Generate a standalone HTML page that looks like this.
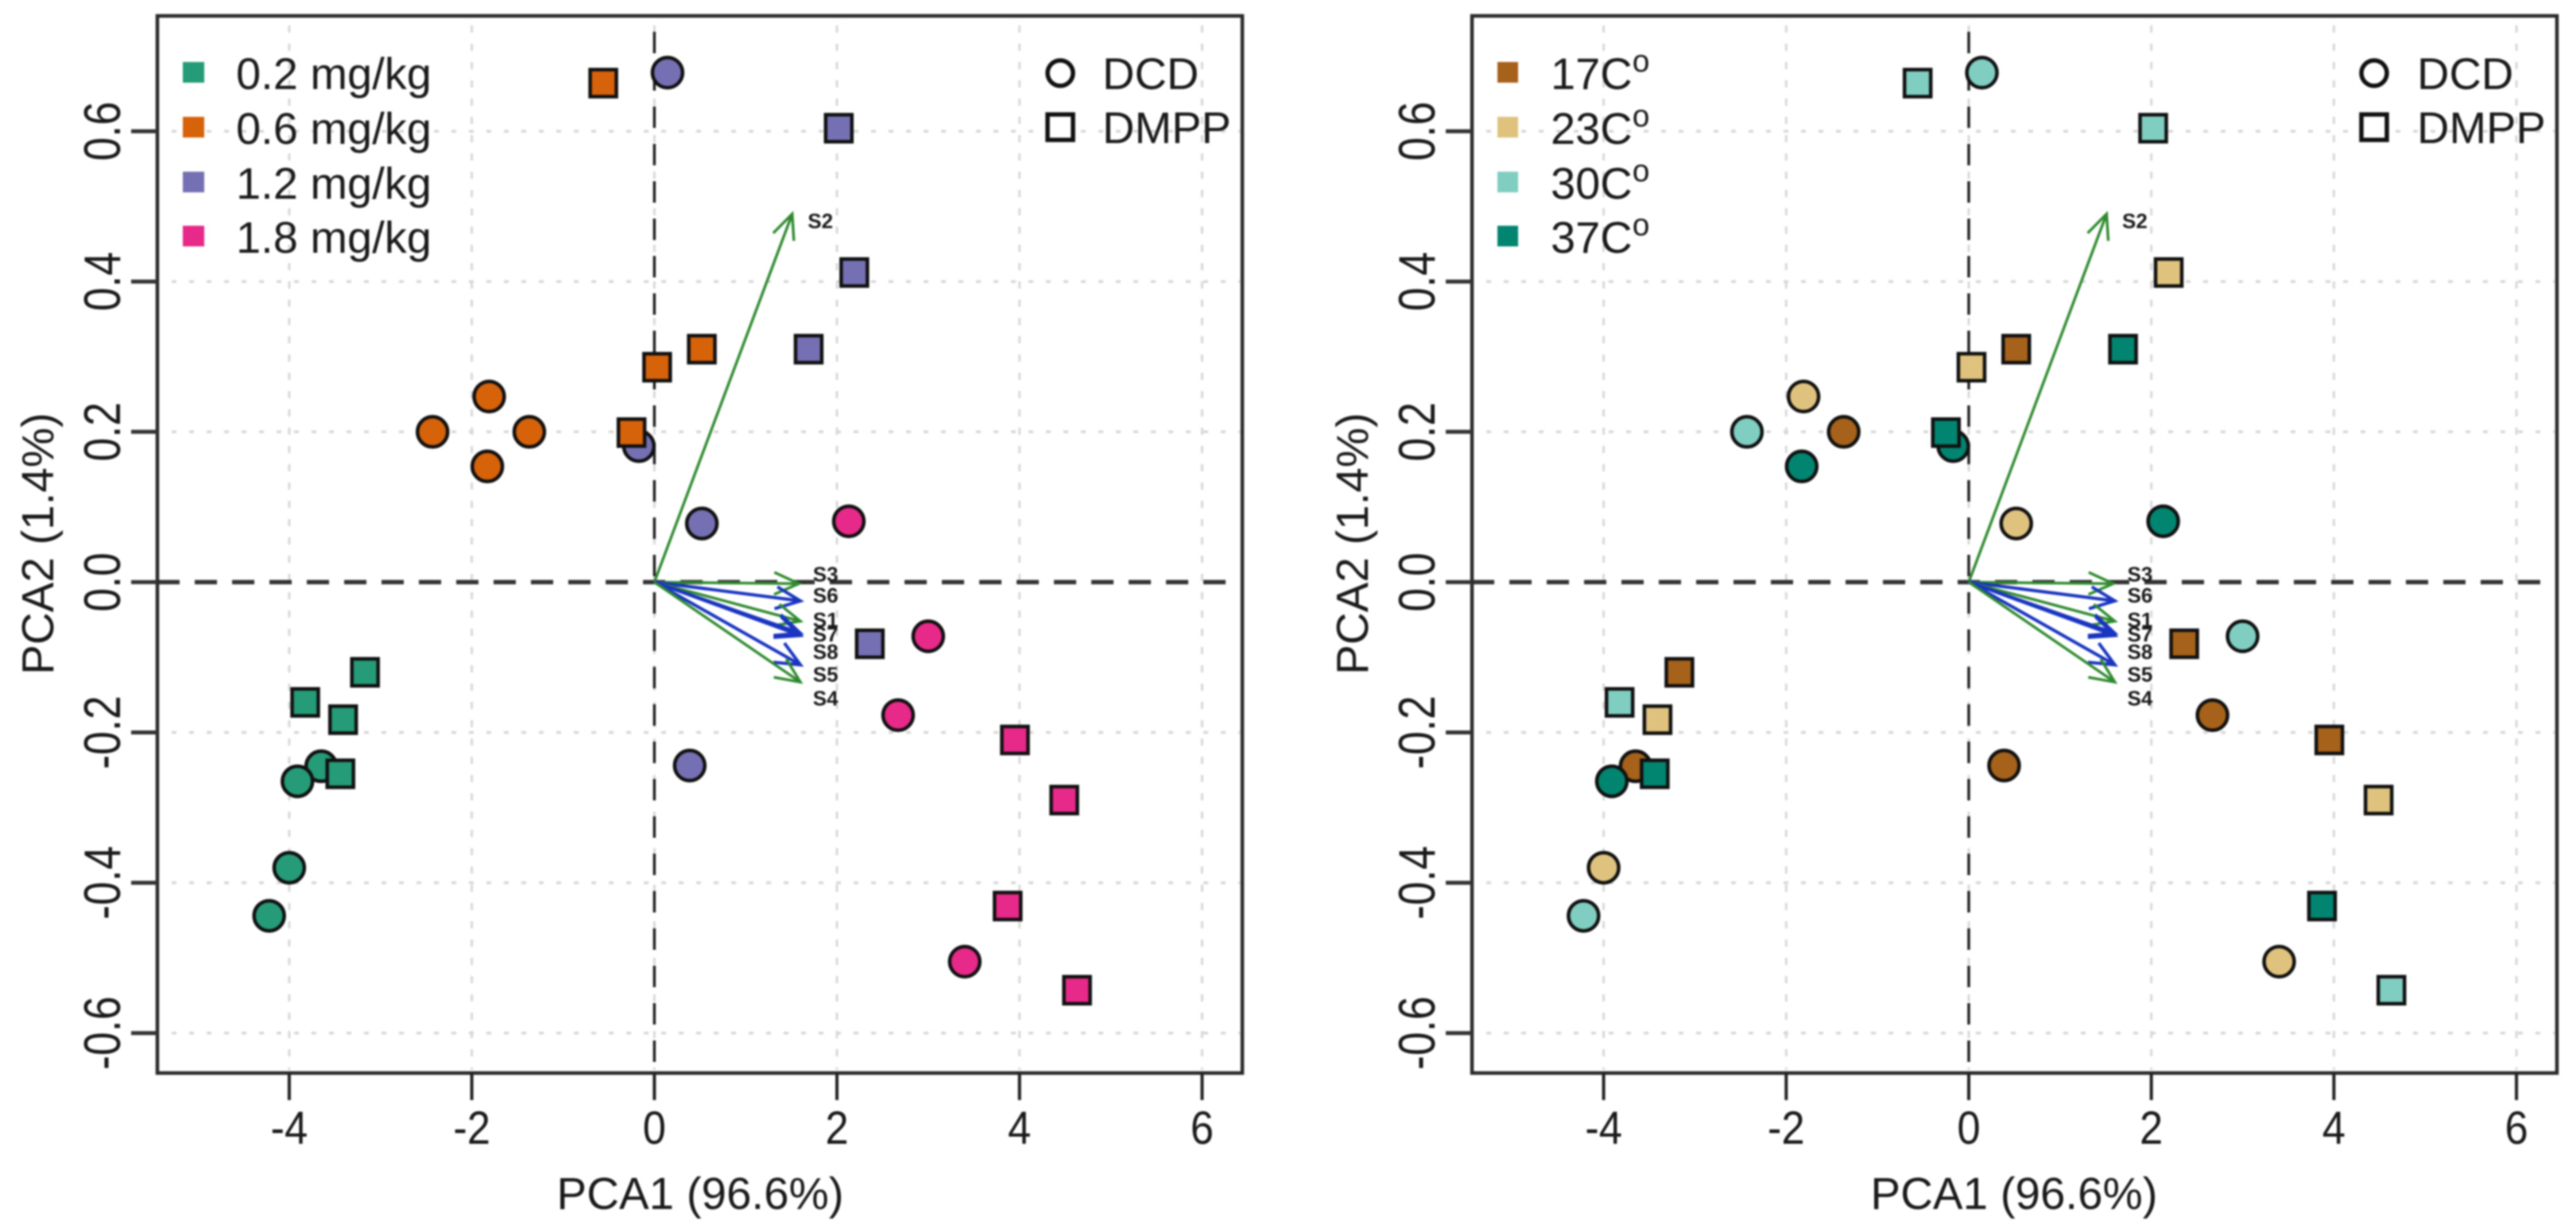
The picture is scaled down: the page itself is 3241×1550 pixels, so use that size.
<!DOCTYPE html>
<html lang="en">
<head>
<meta charset="utf-8">
<title>PCA biplots by dose and temperature</title>
<style>
  html, body { margin: 0; padding: 0; background: #fff; }
  svg { display: block; filter: blur(1.1px); }
  text { font-family: "Liberation Sans", Arial, sans-serif; fill: #1a1a1a; }
  .legend-label, .axis-title { font-size: 56.5px; }
  .legend-label { font-size: 56px; }
  .sup { font-size: 39px; }
</style>
</head>
<body>
<svg id="chart" xmlns="http://www.w3.org/2000/svg" width="3241" height="1550" viewBox="0 0 3241 1550">
  <rect x="0" y="0" width="3241" height="1550" fill="#fff"/>
  <g id="panel-dose"></g>
  <g id="panel-temp"></g>

  <g>
    <rect x="230" y="78" width="27" height="26" fill="#259B77"/>
    <text class="legend-label" x="297" y="112">0.2 mg/kg</text>
    <rect x="230" y="147" width="27" height="26" fill="#D6620A"/>
    <text class="legend-label" x="297" y="181">0.6 mg/kg</text>
    <rect x="230" y="216" width="27" height="26" fill="#7570B3"/>
    <text class="legend-label" x="297" y="250">1.2 mg/kg</text>
    <rect x="230" y="284" width="27" height="26" fill="#E7298A"/>
    <text class="legend-label" x="297" y="318">1.8 mg/kg</text>
  </g>
  <g>
    <circle cx="1334" cy="92" r="16" fill="#fff" stroke="#111" stroke-width="5.5"/>
    <text class="legend-label" x="1387" y="112">DCD</text>
    <rect x="1318" y="144" width="32" height="32" fill="#fff" stroke="#111" stroke-width="5.5"/>
    <text class="legend-label" x="1387" y="180">DMPP</text>
  </g>
  <text class="axis-title" x="881" y="1521" text-anchor="middle">PCA1 (96.6%)</text>
  <text class="axis-title" transform="translate(67,684) rotate(-90)" text-anchor="middle">PCA2 (1.4%)</text>

  <g>
    <rect x="1884" y="78" width="26" height="26" fill="#A6611A"/>
    <text class="legend-label" x="1951" y="112">17C<tspan class="sup" dy="-22">o</tspan></text>
    <rect x="1884" y="147" width="26" height="26" fill="#DFC27D"/>
    <text class="legend-label" x="1951" y="181">23C<tspan class="sup" dy="-22">o</tspan></text>
    <rect x="1884" y="216" width="26" height="26" fill="#80CDC1"/>
    <text class="legend-label" x="1951" y="250">30C<tspan class="sup" dy="-22">o</tspan></text>
    <rect x="1884" y="284" width="26" height="26" fill="#018571"/>
    <text class="legend-label" x="1951" y="318">37C<tspan class="sup" dy="-22">o</tspan></text>
  </g>
  <g>
    <circle cx="2987" cy="92" r="16" fill="#fff" stroke="#111" stroke-width="5.5"/>
    <text class="legend-label" x="3041" y="112">DCD</text>
    <rect x="2971" y="144" width="32" height="32" fill="#fff" stroke="#111" stroke-width="5.5"/>
    <text class="legend-label" x="3041" y="180">DMPP</text>
  </g>
  <text class="axis-title" x="2534" y="1521" text-anchor="middle">PCA1 (96.6%)</text>
  <text class="axis-title" transform="translate(1721,684) rotate(-90)" text-anchor="middle">PCA2 (1.4%)</text>
</svg>

<script>
// ---- chart data ----
const xTickValues = [-4, -2, 0, 2, 4, 6];
const xTickLabels = ['-4', '-2', '0', '2', '4', '6'];
const yTickValues = [-0.6, -0.4, -0.2, 0, 0.2, 0.4, 0.6];
const yTickLabels = ['-0.6', '-0.4', '-0.2', '0.0', '0.2', '0.4', '0.6'];

// Samples: circles (DCD) first, then squares (DMPP)
const pca1 = [
  -3.65, -3.91, -4.00, -4.22,
  -2.43, -1.81, -1.37, -1.83,
  0.144, -0.17, 0.52, 0.387,
  2.13, 3.00, 2.67, 3.40,
  -3.17, -3.825, -3.41, -3.44,
  -0.56, 0.52, 0.03, -0.25,
  2.02, 2.19, 1.69, 2.36,
  3.95, 4.49, 3.87, 4.63
];
const pca2 = [
  -0.245, -0.265, -0.38, -0.444,
  0.20, 0.247, 0.20, 0.154,
  0.678, 0.181, 0.078, -0.244,
  0.081, -0.072, -0.177, -0.505,
  -0.12, -0.16, -0.183, -0.255,
  0.664, 0.31, 0.286, 0.199,
  0.604, 0.412, 0.31, -0.082,
  -0.21, -0.29, -0.431, -0.543
];
const doseGroup = [
  '0.2', '0.2', '0.2', '0.2',
  '0.6', '0.6', '0.6', '0.6',
  '1.2', '1.2', '1.2', '1.2',
  '1.8', '1.8', '1.8', '1.8',
  '0.2', '0.2', '0.2', '0.2',
  '0.6', '0.6', '0.6', '0.6',
  '1.2', '1.2', '1.2', '1.2',
  '1.8', '1.8', '1.8', '1.8'
];
const tempGroup = [
  '17', '37', '23', '30',
  '30', '23', '17', '37',
  '30', '37', '23', '17',
  '37', '30', '17', '23',
  '17', '30', '23', '37',
  '30', '17', '23', '37',
  '30', '23', '37', '17',
  '17', '23', '37', '30'
];
const inhibitor = [
  'DCD', 'DCD', 'DCD', 'DCD',
  'DCD', 'DCD', 'DCD', 'DCD',
  'DCD', 'DCD', 'DCD', 'DCD',
  'DCD', 'DCD', 'DCD', 'DCD',
  'DMPP', 'DMPP', 'DMPP', 'DMPP',
  'DMPP', 'DMPP', 'DMPP', 'DMPP',
  'DMPP', 'DMPP', 'DMPP', 'DMPP',
  'DMPP', 'DMPP', 'DMPP', 'DMPP'
];

// Loading vectors
const loadingNames = ['S2', 'S3', 'S6', 'S1', 'S7', 'S8', 'S5', 'S4'];
const loadingPc1 = [1.51, 1.583, 1.60, 1.60, 1.60, 1.60, 1.60, 1.60];
const loadingPc2 = [0.49, -0.002, -0.025, -0.052, -0.068, -0.071, -0.11, -0.133];
const loadingKind = ['green', 'green', 'blue', 'green', 'blue', 'blue', 'blue', 'green'];
// Printed label heights are de-overlapped in the original, so they are read as values too
const loadingLabelPc2 = [0.481, 0.011, -0.017, -0.05, -0.069, -0.092, -0.122, -0.154];

// ---- styling and panel geometry ----
const doseColors = { '0.2': '#259B77', '0.6': '#D6620A', '1.2': '#7570B3', '1.8': '#E7298A' };
const tempColors = { '17': '#A6611A', '23': '#DFC27D', '30': '#80CDC1', '37': '#018571' };
const arrowColors = { green: '#2f8a2f', blue: '#1a35c0' };
const SVG_NS = 'http://www.w3.org/2000/svg';

function mk(parent, tag, attrs, txt) {
  const el = document.createElementNS(SVG_NS, tag);
  for (const k in attrs) el.setAttribute(k, attrs[k]);
  if (txt !== undefined) el.textContent = txt;
  parent.appendChild(el);
  return el;
}

function drawPanel(rootId, p, colorOf) {
  const root = document.getElementById(rootId);
  const sx = v => p.x0 + v * 114.85;
  const sy = v => 732.4 - v * 945.5;
  const top = 20, bottom = 1350;

  // grid
  xTickValues.forEach(v => {
    const g = mk(root, 'line', { x1: sx(v), x2: sx(v), y1: 32, y2: bottom - 4, stroke: '#d8d8d8', 'stroke-width': 3, 'stroke-dasharray': '9 14' });
    
    
  });
  yTickValues.forEach(v => {
    if (v === 0) return;
    const g = mk(root, 'line', { x1: p.left + 18, x2: p.right - 3, y1: sy(v), y2: sy(v), stroke: '#d8d8d8', 'stroke-width': 3.5, 'stroke-dasharray': '6 16' });
    
    
  });

  // zero reference lines
  const zv = mk(root, 'line', { x1: sx(0), x2: sx(0), y1: 40, y2: bottom, stroke: '#222', 'stroke-width': 3.5, 'stroke-dasharray': '27 20' });
  
  
  const zh = mk(root, 'line', { x1: p.left, x2: p.right, y1: sy(0), y2: sy(0), stroke: '#333', 'stroke-width': 5.5, 'stroke-dasharray': '28 19' });
  
  

  // frame
  const frame = mk(root, 'rect', { x: p.left, y: top, width: p.right - p.left, height: bottom - top, fill: 'none', stroke: '#2a2a2a', 'stroke-width': 4.5 });
  
  

  // x axis
  xTickValues.forEach((v, i) => {
    const t = mk(root, 'line', { x1: sx(v), x2: sx(v), y1: bottom, y2: 1384, stroke: '#222', 'stroke-width': 4 });
    
    
    const l = mk(root, 'text', { x: 0, y: 0, 'text-anchor': 'middle', 'font-size': 56, transform: 'translate(' + sx(v) + ',1439) scale(0.94,1.04)' }, xTickLabels[i]);
    
    
  });

  // y axis
  yTickValues.forEach((v, i) => {
    const t = mk(root, 'line', { x1: p.left - 33, x2: p.left, y1: sy(v), y2: sy(v), stroke: '#333', 'stroke-width': 5 });
    
    
    const l = mk(root, 'text', { x: 0, y: 0, 'text-anchor': 'middle', 'font-size': 56, fill: '#333', transform: 'translate(' + (p.left - 47) + ',' + sy(v) + ') rotate(-90) scale(0.96,1.16)' }, yTickLabels[i]);
    
    
  });

  // sample points
  pca1.forEach((v, i) => {
    const fill = colorOf(i);
    let m;
    if (inhibitor[i] === 'DCD') {
      m = mk(root, 'circle', { cx: sx(v), cy: sy(pca2[i]), r: 19, fill: fill, stroke: '#111', 'stroke-width': 4.5 });
      
    } else {
      m = mk(root, 'rect', { x: sx(v) - 16.5, y: sy(pca2[i]) - 17, width: 33, height: 34, fill: fill, stroke: '#111', 'stroke-width': 4.5 });
      
    }
    
  });

  // loading arrows
  loadingNames.forEach((name, i) => {
    const x1 = sx(0), y1 = sy(0), x2 = sx(loadingPc1[i]), y2 = sy(loadingPc2[i]);
    const a = Math.atan2(y2 - y1, x2 - x1), h = 34, w = 0.42;
    const d = 'M' + x1 + ' ' + y1 + 'L' + x2 + ' ' + y2 +
      'M' + (x2 - h * Math.cos(a - w)) + ' ' + (y2 - h * Math.sin(a - w)) + 'L' + x2 + ' ' + y2 +
      'L' + (x2 - h * Math.cos(a + w)) + ' ' + (y2 - h * Math.sin(a + w));
    const arrow = mk(root, 'path', { d: d, fill: 'none', stroke: arrowColors[loadingKind[i]], 'stroke-width': loadingKind[i] === 'blue' ? 4 : 3.4 });
    
    
    const lx = name === 'S2' ? sx(0) + 193 : sx(0) + 199.5;
    const lb = mk(root, 'text', { x: lx, y: sy(loadingLabelPc2[i]) + 9.5, 'font-size': 26, 'font-weight': 'bold', fill: '#222' }, name);
    
    
  });
}

drawPanel('panel-dose', { left: 198, right: 1563, x0: 823.3 }, i => doseColors[doseGroup[i]]);
drawPanel('panel-temp', { left: 1852, right: 3217, x0: 2477 }, i => tempColors[tempGroup[i]]);
</script>
</body>
</html>
